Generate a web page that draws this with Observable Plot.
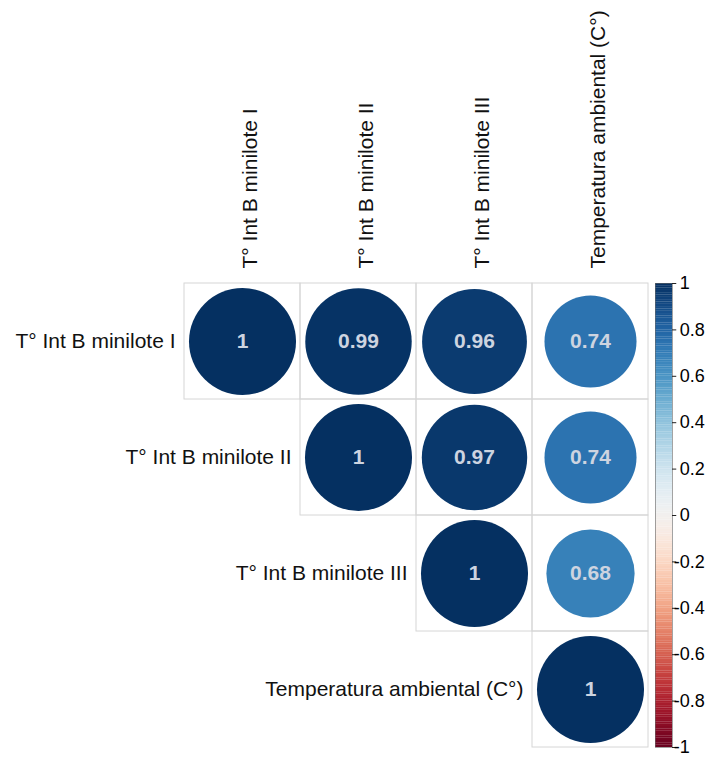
<!DOCTYPE html>
<html>
<head>
<meta charset="utf-8">
<script src="https://cdn.jsdelivr.net/npm/d3@7"></script>
<script src="https://cdn.jsdelivr.net/npm/@observablehq/plot@0.6"></script>
<style>
  html, body { margin: 0; padding: 0; background: #fff; }
  #chart { position: relative; width: 708px; height: 757px; }
  #chart svg { position: absolute; left: 0; top: 0; }
</style>
</head>
<body>
<div id="chart"></div>
<script>
// Variables of the correlation matrix (rows and columns share the same order)
const variables = [
  "T° Int B minilote I",
  "T° Int B minilote II",
  "T° Int B minilote III",
  "Temperatura ambiental (C°)"
];

// Pearson correlations, one row per variable
const corrMinilote1 = [1, 0.99, 0.96, 0.74];
const corrMinilote2 = [0.99, 1, 0.97, 0.74];
const corrMinilote3 = [0.96, 0.97, 1, 0.68];
const corrAmbiental = [0.74, 0.74, 0.68, 1];

// Colour bar tick values
const legendTicks = [1, 0.8, 0.6, 0.4, 0.2, 0, -0.2, -0.4, -0.6, -0.8, -1];

const matrix = [corrMinilote1, corrMinilote2, corrMinilote3, corrAmbiental];

// Upper triangle (including diagonal)
const cells = [];
matrix.forEach((row, i) => {
  row.forEach((v, j) => {
    if (j >= i) cells.push({row: variables[i], col: variables[j], value: v});
  });
});

const font = "'Liberation Sans', Arial, Helvetica, sans-serif";
const colorScale = {type: "linear", domain: [-1, 1], scheme: "rdbu"};

const main = Plot.plot({
  width: 708,
  height: 757,
  marginLeft: 184,
  marginRight: 60,
  marginTop: 283,
  marginBottom: 10,
  style: {fontFamily: font, background: "transparent"},
  x: {type: "band", domain: variables, padding: 0, axis: null},
  y: {type: "band", domain: variables, padding: 0, axis: null},
  r: {type: "sqrt", domain: [0, 1], range: [0, 53.5]},
  color: colorScale,
  marks: [
    Plot.cell(cells, {x: "col", y: "row", fill: "none", stroke: "#d6d6d6", strokeWidth: 1}),
    Plot.dot(cells, {x: "col", y: "row", r: d => Math.abs(d.value), fill: "value", stroke: null}),
    Plot.text(cells, {
      x: "col", y: "row", text: d => String(d.value),
      fill: "#cdd4e0", fontSize: 21, fontWeight: "bold"
    }),
    // Row labels, right-aligned before the first cell of each row
    Plot.text(variables, {
      x: d => d, y: d => d, text: d => d,
      textAnchor: "end", dx: -67, fontSize: 21, fill: "#111"
    }),
    // Column labels, rotated above the grid
    Plot.text(variables, {
      x: d => d, text: d => d, frameAnchor: "top",
      rotate: -90, textAnchor: "start", dy: -15, fontSize: 21, fill: "#111"
    })
  ]
});

// Colour bar on the right
const steps = d3.range(-1, 1, 0.01);
const fmt = d => d3.format("")(d).replace("−", "-");
const bar = Plot.plot({
  width: 708,
  height: 757,
  marginLeft: 655,
  marginRight: 36,
  marginTop: 283,
  marginBottom: 10,
  style: {fontFamily: font, background: "transparent", fontSize: "17px", color: "#000"},
  x: {domain: [0, 1], axis: null},
  y: {domain: [-1, 1], axis: null},
  color: colorScale,
  marks: [
    Plot.rect(steps, {x1: 0, x2: 1, y1: d => d, y2: d => Math.min(1, d + 0.0105), fill: d => d + 0.005}),
    Plot.frame({stroke: "#666", strokeWidth: 0.6}),
    Plot.ruleY(legendTicks, {y: d => d, x1: 1, x2: 1.25, stroke: "#222", strokeWidth: 1}),
    // Non-negative labels
    Plot.text(legendTicks.filter(d => d >= 0), {
      y: d => d, x: 1.25, dx: 3, textAnchor: "start", text: fmt,
      fontSize: 18, fill: "#000"
    }),
    // Negative labels: the minus sign sits right after the tick
    Plot.text(legendTicks.filter(d => d < 0), {
      y: d => d, x: 1.25, dx: -3, textAnchor: "start", text: fmt,
      fontSize: 18, fill: "#000"
    })
  ]
});

const chart = document.getElementById("chart");
chart.appendChild(main);
chart.appendChild(bar);
</script>
</body>
</html>
